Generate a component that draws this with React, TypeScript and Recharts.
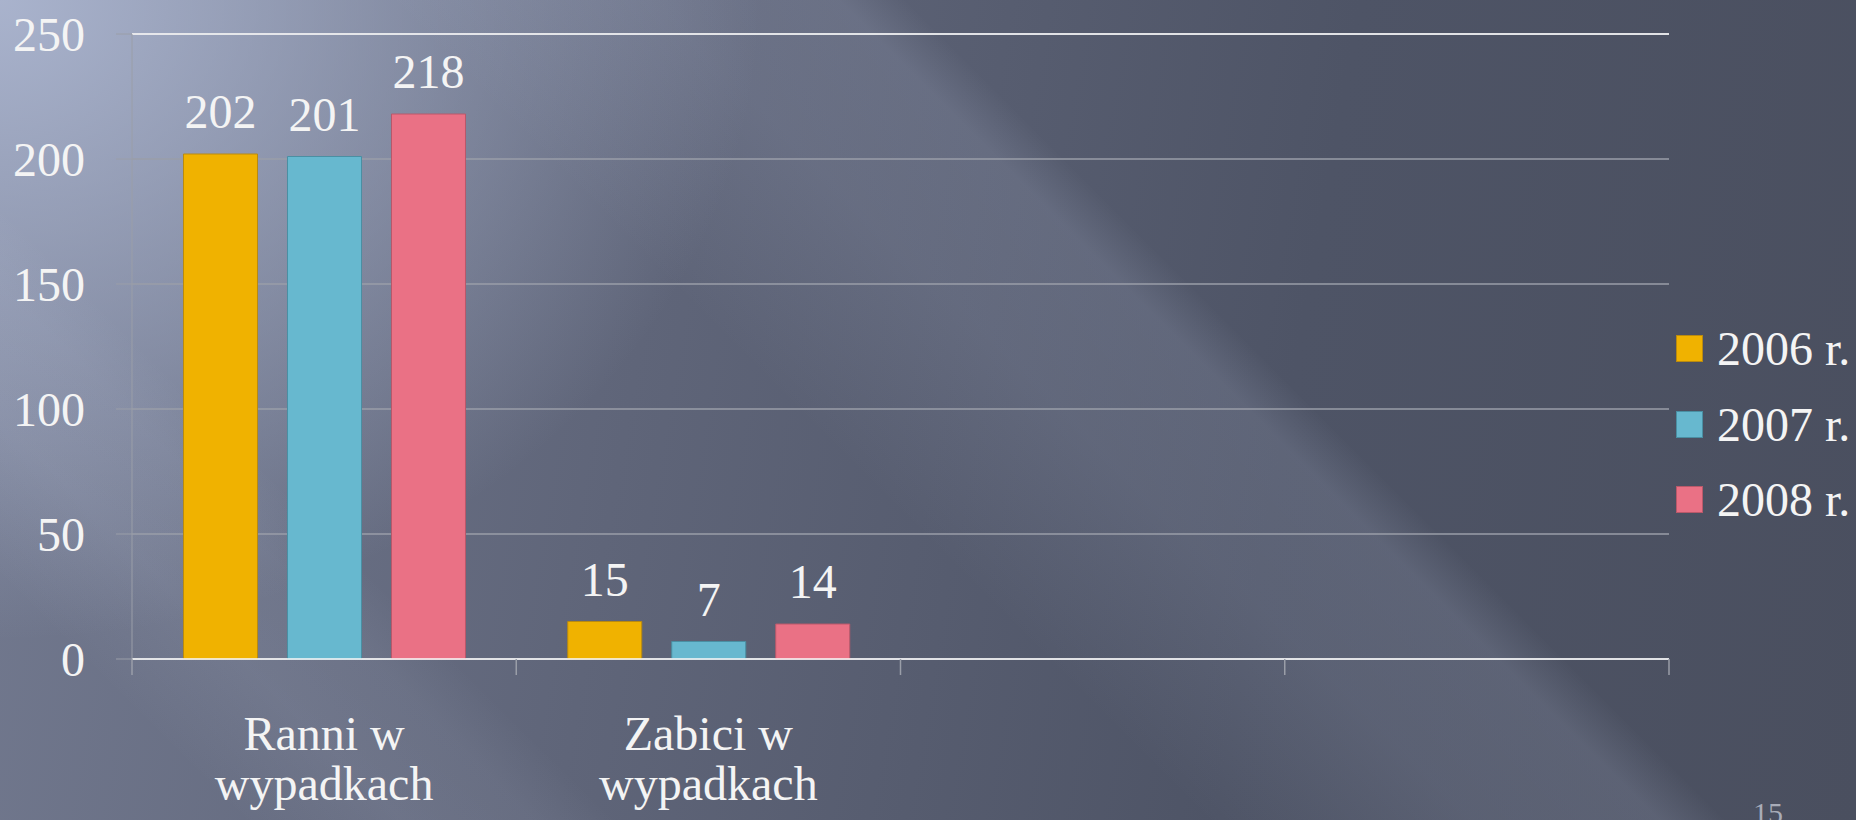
import React from 'react';
import {
  BarChart,
  Bar,
  XAxis,
  YAxis,
  CartesianGrid,
  LabelList,
  ReferenceLine,
} from 'recharts';

// categories (two empty slots on the right, as in the original slide)
const categories = ['Ranni w wypadkach', 'Zabici w wypadkach', '', ' '];
const categoryLines: Record<string, string[]> = {
  'Ranni w wypadkach': ['Ranni w', 'wypadkach'],
  'Zabici w wypadkach': ['Zabici w', 'wypadkach'],
};

const values2006 = [202, 15, null, null];
const values2007 = [201, 7, null, null];
const values2008 = [218, 14, null, null];

const yTicks = [0, 50, 100, 150, 200, 250];

const seriesKeys = ['y2006', 'y2007', 'y2008'];
const seriesNames = ['2006 r.', '2007 r.', '2008 r.'];
const seriesColors = ['#F0B200', '#67B8CF', '#EA7185'];
const seriesStrokes = ['#B98A10', '#4A8FA3', '#B9596A'];

const chartData = categories.map((cat, i) => ({
  cat,
  y2006: values2006[i],
  y2007: values2007[i],
  y2008: values2008[i],
}));

const FONT = '"Liberation Serif", "DejaVu Serif", serif';
const TEXT = '#F4F4F4';
const GRID = '#9A9EA8';

// label lines plus the tick marks on the category boundaries
const CategoryTick: React.FC<any> = ({ x, y, payload, index, visibleTicksCount }) => {
  const lines = categoryLines[payload.value] || [];
  const half = payload.offset || 0;
  const isLast = index === (visibleTicksCount ?? categories.length) - 1;
  return (
    <g>
      <line x1={x - half} x2={x - half} y1={y} y2={y + 16} stroke={GRID} strokeWidth={1.5} />
      {isLast && (
        <line x1={x + half} x2={x + half} y1={y} y2={y + 16} stroke={GRID} strokeWidth={1.5} />
      )}
      {lines.map((line, i) => (
        <text
          key={i}
          x={x}
          y={y + 91 + i * 50}
          textAnchor="middle"
          fill={TEXT}
          fontSize={48}
          fontFamily={FONT}
        >
          {line}
        </text>
      ))}
    </g>
  );
};

// legend drawn beside the chart, like the slide's
const SeriesLegend: React.FC = () => (
  <div style={{ position: 'absolute', left: 1670, top: 311, fontFamily: FONT }}>
    {seriesNames.map((name, i) => (
      <div key={name} style={{ display: 'flex', alignItems: 'center', height: 75.5 }}>
        <div
          style={{
            width: 25,
            height: 25,
            marginLeft: 6,
            background: seriesColors[i],
            border: `1px solid ${seriesStrokes[i]}`,
          }}
        />
        <span style={{ marginLeft: 14, fontSize: 48, color: TEXT, lineHeight: '75px', whiteSpace: 'nowrap' }}>
          {name}
        </span>
      </div>
    ))}
  </div>
);

const background = [
  // diagonal light streaks
  'linear-gradient(45deg, rgba(255,255,255,0) 0%, rgba(255,255,255,0) 9%, rgba(225,232,255,0.08) 15%, rgba(225,232,255,0.06) 20%, rgba(255,255,255,0) 23%, rgba(255,255,255,0) 45%, rgba(215,225,255,0.10) 55%, rgba(215,225,255,0.12) 62%, rgba(255,255,255,0) 64.5%, rgba(255,255,255,0) 100%)',
  // light corner at top left
  'radial-gradient(ellipse 760px 640px at 0px 0px, rgba(172,182,208,0.95), rgba(172,182,208,0) 100%)',
  // base
  'linear-gradient(100deg, #737A90 0%, #5F6579 35%, #4E5466 68%, #4A4F5F 100%)',
].join(', ');

export default function App() {
  return (
    <div
      style={{
        position: 'absolute',
        left: 0,
        top: 0,
        width: 1856,
        height: 820,
        overflow: 'hidden',
        background,
      }}
    >
      <BarChart
        width={1856}
        height={820}
        data={chartData}
        margin={{ top: 34, right: 187, left: 0, bottom: 0 }}
        barCategoryGap="13.4%"
        barGap={30}
      >
        <CartesianGrid vertical={false} stroke={GRID} strokeWidth={1.5} />
        <XAxis
          dataKey="cat"
          height={161}
          axisLine={{ stroke: '#FFFFFF', strokeWidth: 1.5 }}
          tickLine={false}
          tickSize={0}
          tickMargin={0}
          tick={<CategoryTick />}
          interval={0}
        />
        <YAxis
          width={132}
          domain={[0, 250]}
          ticks={yTicks}
          tickSize={16}
          tickMargin={31}
          axisLine={{ stroke: GRID }}
          tickLine={{ stroke: GRID }}
          tick={{ fill: TEXT, fontSize: 48, fontFamily: FONT }}
        />
        <ReferenceLine y={250} stroke="#FFFFFF" strokeWidth={1.5} />
        {seriesKeys.map((key, i) => (
          <Bar
            key={key}
            dataKey={key}
            name={seriesNames[i]}
            fill={seriesColors[i]}
            stroke={seriesStrokes[i]}
            strokeWidth={1}
            isAnimationActive={false}
          >
            <LabelList
              dataKey={key}
              position="top"
              offset={26}
              fill={TEXT}
              fontSize={48}
              fontFamily={FONT}
            />
          </Bar>
        ))}
      </BarChart>
      <SeriesLegend />
      <div
        style={{
          position: 'absolute',
          left: 1753,
          top: 796,
          fontFamily: FONT,
          fontSize: 30,
          color: '#A8ACB8',
        }}
      >
        15
      </div>
    </div>
  );
}
